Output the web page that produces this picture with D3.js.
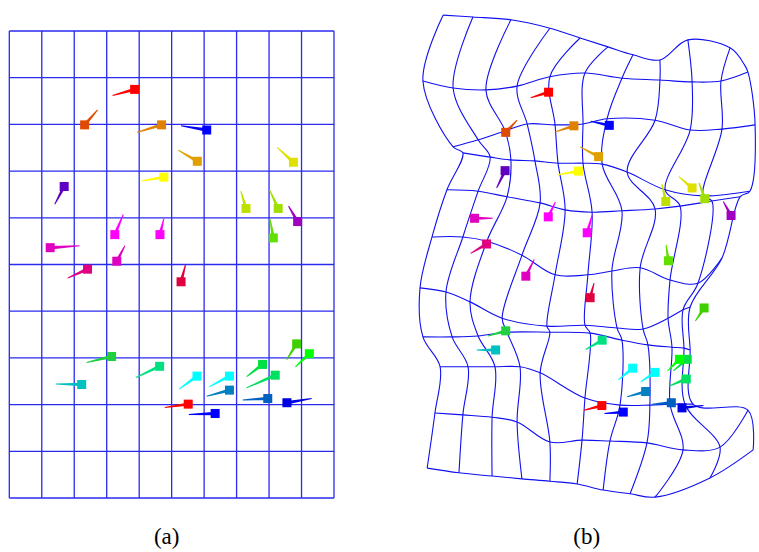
<!DOCTYPE html>
<html>
<head>
    <meta charset="utf-8">
    <title>Grid deformation</title>
    <script src="https://d3js.org/d3.v7.min.js"></script>
    <style>
    body { margin: 0; background: #fff; }
    svg text {
        font-family: "Liberation Serif", "DejaVu Serif", serif;
        font-size: 23px;
        fill: #000;
        text-anchor: middle;
    }
    </style>
</head>
<body>
<script>
// regular grid (a), in cell units
var gridTicks = [0, 1, 2, 3, 4, 5, 6, 7, 8, 9, 10];

// marker colours, one per landmark
var colors = ["#ff0000", "#e04a00", "#e08000", "#0000ff", "#e0a000", "#e0e000", "#6000c0", "#ffff00",
    "#c0e000", "#a0e000", "#a000c0", "#ff00ff", "#ff00ff", "#60e000", "#e000c0", "#e000c0",
    "#e00080", "#e00040", "#20d040", "#00c0c0", "#00e080", "#00ffff", "#00ffff", "#0080c0",
    "#00e040", "#00e060", "#40d000", "#00ff00", "#ff0000", "#0000ff", "#0060c0", "#0000e0"];

// landmarks in (a): square centre and tail end
var aSqX = [3.86, 2.32, 4.69, 6.08, 5.79, 8.75, 1.69, 4.76, 7.29, 8.28, 8.88, 3.25, 4.64, 8.13, 1.26, 3.31,
    2.41, 5.29, 3.15, 2.23, 4.63, 5.78, 6.78, 6.78, 7.80, 8.19, 8.85, 9.24, 5.51, 6.34, 7.96, 8.55];
var aSqY = [1.25, 2.01, 2.01, 2.12, 2.79, 2.81, 3.33, 3.13, 3.80, 3.80, 4.08, 4.36, 4.36, 4.43, 4.64, 4.93,
    5.10, 5.37, 6.97, 7.57, 7.18, 7.39, 7.39, 7.69, 7.14, 7.37, 6.70, 6.91, 7.99, 8.19, 7.87, 7.96];
var aTailX = [3.18, 2.72, 3.94, 5.29, 5.20, 8.25, 1.40, 4.07, 7.13, 8.02, 8.60, 3.51, 4.76, 8.03, 2.16, 3.56,
    1.80, 5.43, 2.38, 1.44, 3.90, 5.23, 6.15, 6.08, 7.31, 7.31, 8.54, 8.81, 4.79, 5.53, 7.19, 9.31];
var aTailY = [1.38, 1.69, 2.17, 2.03, 2.55, 2.49, 3.71, 3.21, 3.43, 3.41, 3.75, 3.93, 4.02, 4.03, 4.60, 4.60,
    5.29, 5.00, 7.10, 7.56, 7.42, 7.67, 7.62, 7.82, 7.40, 7.64, 7.04, 7.19, 8.06, 8.21, 7.90, 7.87];

// the same landmarks in (b)
var bSqX = [3.96, 2.64, 4.74, 5.83, 5.50, 8.38, 2.62, 4.88, 7.57, 8.77, 9.58, 3.95, 5.15, 7.65, 1.68, 3.26,
    2.05, 5.24, 2.64, 2.33, 5.61, 6.55, 7.24, 6.95, 8.23, 8.20, 8.75, 7.99, 5.60, 6.26, 7.74, 8.07];
var bSqY = [1.76, 2.62, 2.48, 2.47, 3.14, 3.81, 3.44, 3.45, 4.10, 4.04, 4.40, 4.43, 4.77, 5.37, 4.46, 5.70,
    5.01, 6.16, 6.87, 7.28, 7.07, 7.67, 7.76, 8.17, 7.48, 7.90, 6.38, 7.48, 8.47, 8.61, 8.41, 8.52];
var bTailX = [3.41, 2.99, 4.16, 5.26, 4.93, 7.97, 2.36, 4.24, 7.45, 8.59, 9.34, 4.17, 5.30, 7.58, 2.24, 3.52,
    1.56, 5.36, 2.09, 1.75, 5.10, 6.11, 6.80, 6.38, 7.80, 7.68, 8.48, 7.62, 5.05, 5.68, 7.15, 8.73];
var bTailY = [1.88, 2.36, 2.61, 2.38, 2.93, 3.57, 3.81, 3.53, 3.73, 3.70, 4.10, 4.11, 4.39, 5.03, 4.46, 5.34,
    5.21, 5.85, 6.98, 7.28, 7.27, 7.92, 7.96, 8.28, 7.73, 8.05, 6.66, 7.73, 8.57, 8.64, 8.44, 8.47];

// deformed grid nodes in (b): row = horizontal line, column = vertical line
var gridBX = [
    [0.71, 1.63, 2.80, 4.00, 4.93, 5.79, 6.56, 7.39, 8.25, 9.55, 9.98],
    [0.09, 1.02, 2.03, 2.99, 4.00, 5.08, 6.22, 7.39, 8.38, 9.27, 10.10],
    [1.02, 1.79, 2.62, 3.30, 4.16, 5.02, 5.76, 7.24, 8.32, 9.30, 10.32],
    [1.32, 2.16, 2.80, 3.54, 4.25, 5.02, 5.61, 6.38, 7.55, 8.72, 10.16],
    [0.83, 1.79, 2.68, 3.70, 4.47, 5.30, 6.22, 7.24, 8.01, 8.99, 9.86],
    [0.37, 1.32, 2.06, 3.14, 4.16, 5.17, 5.91, 6.78, 7.70, 8.56, 9.30],
    [0.00, 0.80, 1.54, 2.53, 3.91, 5.08, 6.07, 6.87, 7.64, 8.10, 8.32],
    [0.09, 0.99, 1.79, 2.68, 4.00, 5.24, 6.22, 7.02, 7.76, 8.13, 8.32],
    [0.62, 1.48, 2.31, 3.08, 3.70, 5.08, 6.16, 7.08, 7.70, 8.16, 8.41],
    [0.46, 1.32, 2.22, 2.99, 4.00, 4.99, 5.85, 6.99, 8.10, 9.24, 10.10],
    [0.22, 1.20, 2.22, 3.14, 4.00, 4.84, 5.64, 6.47, 7.24, 8.93, 10.26]
];
var gridBY = [
    [0.11, 0.15, 0.21, 0.39, 0.60, 0.79, 0.96, 1.07, 0.64, 0.81, 1.16],
    [1.52, 1.67, 1.71, 1.63, 1.43, 1.35, 1.46, 1.50, 1.54, 1.52, 1.33],
    [2.93, 2.78, 2.59, 2.44, 2.46, 2.44, 2.33, 2.36, 2.57, 2.55, 2.46],
    [3.06, 3.15, 3.21, 3.23, 3.28, 3.28, 3.30, 3.47, 3.85, 3.98, 3.88],
    [3.85, 3.88, 4.00, 4.13, 4.28, 4.33, 4.30, 4.26, 4.20, 4.09, 4.00],
    [4.86, 4.86, 4.95, 5.25, 5.67, 5.67, 5.59, 5.52, 5.78, 5.85, 5.31],
    [5.95, 6.04, 6.25, 6.60, 6.77, 6.75, 6.81, 6.83, 6.60, 6.42, 6.36],
    [7.00, 7.00, 6.98, 6.90, 6.90, 6.92, 7.07, 7.17, 7.22, 7.24, 7.28],
    [7.64, 7.64, 7.64, 7.64, 7.77, 8.31, 8.46, 8.46, 8.44, 8.44, 8.44],
    [8.63, 8.67, 8.72, 8.82, 9.25, 9.21, 9.23, 9.27, 9.42, 9.36, 8.57],
    [9.81, 9.91, 9.98, 10.04, 10.09, 10.15, 10.28, 10.36, 10.43, 10.02, 9.42]
];

var panelLabels = ["(a)", "(b)"];

var width = 759, height = 552;
var sq = 9; // square side in px

var svg = d3.select("body").append("svg")
    .attr("width", width)
    .attr("height", height);

var xA = d3.scaleLinear().domain([0, 10]).range([9.3, 334]);
var yA = d3.scaleLinear().domain([0, 10]).range([31, 498]);
var xB = d3.scaleLinear().domain([0, 10]).range([420, 744.7]);
var yB = d3.scaleLinear().domain([0, 10]).range([10, 477]);

// (a) straight grid
var gA = svg.append("g");
gA.selectAll(".vline").data(gridTicks).enter().append("line")
    .attr("x1", function(d) { return xA(d); })
    .attr("x2", function(d) { return xA(d); })
    .attr("y1", yA(0)).attr("y2", yA(10))
    .attr("stroke", "#2a2af0").attr("stroke-width", 1.3);
gA.selectAll(".hline").data(gridTicks).enter().append("line")
    .attr("y1", function(d) { return yA(d); })
    .attr("y2", function(d) { return yA(d); })
    .attr("x1", xA(0)).attr("x2", xA(10))
    .attr("stroke", "#2a2af0").attr("stroke-width", 1.3);

// (b) warped grid
var line = d3.line()
    .x(function(d) { return xB(d[0]); })
    .y(function(d) { return yB(d[1]); })
    .curve(d3.curveCatmullRom.alpha(0.5));

var rows = gridBX.map(function(r, j) {
    return r.map(function(x, i) { return [x, gridBY[j][i]]; });
});
var cols = gridTicks.map(function(i) {
    return rows.map(function(r) { return r[i]; });
});

var gB = svg.append("g");
gB.selectAll("path.row").data(rows).enter().append("path")
    .attr("d", line)
    .attr("fill", "none").attr("stroke", "#1010f0").attr("stroke-width", 1.1);
gB.selectAll("path.col").data(cols).enter().append("path")
    .attr("d", line)
    .attr("fill", "none").attr("stroke", "#1010f0").attr("stroke-width", 1.1);

// tapered tail from square centre to tail end
function tail(x1, y1, x2, y2) {
    var dx = x2 - x1, dy = y2 - y1;
    var len = Math.sqrt(dx * dx + dy * dy) || 1;
    var nx = -dy / len, ny = dx / len;
    var w1 = 1.7, w2 = 0.5;
    return [[x1 + nx * w1, y1 + ny * w1], [x2 + nx * w2, y2 + ny * w2],
        [x2 - nx * w2, y2 - ny * w2], [x1 - nx * w1, y1 - ny * w1]]
        .map(function(p) { return p.join(","); }).join(" ");
}

function drawMarkers(g, sx, sy, tx, ty, xs, ys) {
    g.selectAll("polygon").data(colors).enter().append("polygon")
        .attr("points", function(d, i) {
            return tail(xs(sx[i]), ys(sy[i]), xs(tx[i]), ys(ty[i]));
        })
        .attr("fill", function(d) { return d; });
    g.selectAll("rect").data(colors).enter().append("rect")
        .attr("x", function(d, i) { return xs(sx[i]) - sq / 2; })
        .attr("y", function(d, i) { return ys(sy[i]) - sq / 2; })
        .attr("width", sq).attr("height", sq)
        .attr("fill", function(d) { return d; });
}

drawMarkers(svg.append("g"), aSqX, aSqY, aTailX, aTailY, xA, yA);
drawMarkers(svg.append("g"), bSqX, bSqY, bTailX, bTailY, xB, yB);

svg.selectAll("text.lab").data(panelLabels).enter().append("text")
    .attr("x", function(d, i) { return i === 0 ? 166.7 : 586.7; })
    .attr("y", 544)
    .text(function(d) { return d; });
</script>
</body>
</html>
